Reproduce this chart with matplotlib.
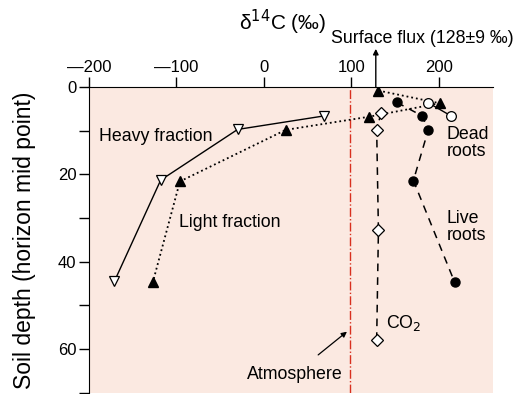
import matplotlib
matplotlib.use("Agg")
import matplotlib.pyplot as plt

plt.rcParams['font.family'] = ['Liberation Sans', 'DejaVu Sans']

# delta 14C values (per mil) and depths (cm)
heavy_x = [69, -30, -118, -171]
heavy_y = [6.6, 9.7, 21.3, 44.5]

light_x = [131, 201, 120, 25, -96, -127]
light_y = [0.8, 3.7, 6.8, 9.8, 21.6, 44.7]

dead_x = [188, 214]
dead_y = [3.6, 6.6]

live_x = [152, 181, 188, 171, 218]
live_y = [3.5, 6.6, 9.8, 21.4, 44.6]

co2_x = [134, 129, 131, 129]
co2_y = [5.9, 9.8, 32.8, 57.8]

atmosphere = 99
surface_flux = 128

xticks = [-200, -100, 0, 100, 200]
xticklabels = ['\u2014200', '\u2014100', '0', '100', '200']

fig = plt.figure(figsize=(5.25, 3.94), dpi=100)
ax = fig.add_axes([0.1695, 0.003, 0.7695, 0.776])
ax.set_facecolor('#fbe9e1')

ax.plot(heavy_x, heavy_y, '-', color='black', lw=1.0, marker='v', ms=7,
        mfc='white', mec='black', mew=0.9, zorder=3)
ax.plot(light_x, light_y, ':', color='black', lw=1.3, marker='^', ms=7,
        mfc='black', mec='black', zorder=3)
ax.plot(live_x, live_y, color='black', lw=1.1, ls=(0, (5, 4)), marker='o', ms=6.5,
        mfc='black', mec='black', zorder=3)
ax.plot(co2_x, co2_y, color='black', lw=1.1, ls=(0, (5, 4)), marker='D', ms=6,
        mfc='white', mec='black', mew=0.9, zorder=4)
ax.plot(dead_x, dead_y, '-', color='black', lw=1.0, marker='o', ms=7,
        mfc='white', mec='black', mew=0.9, zorder=4)

ax.axvline(atmosphere, color='#d8301f', lw=1.0, ls='-.', zorder=2)

ax.set_xlim(-200, 262)
ax.set_ylim(70, 0)
ax.xaxis.tick_top()
ax.set_xticks(xticks)
ax.set_xticklabels(xticklabels)
ax.set_yticks([0, 20, 40, 60])
ax.set_yticks([10, 30, 50, 70], minor=True)
ax.tick_params(axis='both', which='both', direction='out', length=7, width=1,
               labelsize=12, pad=2)
ax.tick_params(axis='x', which='both', top=True, bottom=False)
for side in ['right', 'bottom']:
    ax.spines[side].set_visible(False)
ax.set_ylabel('Soil depth (horizon mid point)', fontsize=16.5)
ax.yaxis.set_label_coords(-0.13, 0.5)

# top label and surface flux arrow
ax.text(22, 1.212, '\u03b4$^{14}$C (\u2030)', fontsize=15, ha='center', va='center',
        transform=ax.get_xaxis_transform())
ax.annotate('', xy=(surface_flux, 1.125), xytext=(surface_flux, 1.0),
            xycoords=ax.get_xaxis_transform(), textcoords=ax.get_xaxis_transform(),
            arrowprops=dict(arrowstyle='-|>', color='black', lw=1, mutation_scale=8,
                            shrinkA=0, shrinkB=0))
ax.text(77, 1.158, 'Surface flux (128\u00b19 \u2030)', fontsize=12.8, ha='left', va='center',
        transform=ax.get_xaxis_transform())

# series labels
ax.text(-188, 11.3, 'Heavy fraction', fontsize=12.8, va='center')
ax.text(-97, 30.9, 'Light fraction', fontsize=12.8, va='center')
ax.text(209, 12.7, 'Dead\nroots', fontsize=12.8, va='center', linespacing=1.0)
ax.text(209, 32.0, 'Live\nroots', fontsize=12.8, va='center', linespacing=1.0)
ax.text(140, 54, 'CO$_2$', fontsize=12.8, va='center')
ax.annotate('Atmosphere', xy=(95, 56), xytext=(35, 65.7), fontsize=12.8,
            ha='center', va='center',
            arrowprops=dict(arrowstyle='-|>', color='black', lw=0.9, mutation_scale=8,
                            shrinkA=9, shrinkB=0))

fig.savefig('out.png', dpi=100)
